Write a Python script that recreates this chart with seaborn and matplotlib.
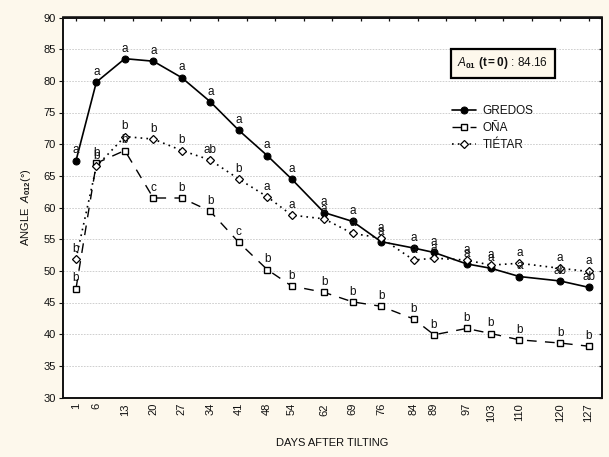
import matplotlib
matplotlib.use("Agg")
import matplotlib.pyplot as plt
import seaborn as sns
import pandas as pd
import numpy as np

days = [1, 6, 13, 20, 27, 34, 41, 48, 54, 62, 69, 76, 84, 89, 97, 103, 110, 120, 127]
gredos = [67.4, 79.8, 83.5, 83.1, 80.5, 76.7, 72.2, 68.2, 64.5, 59.2, 57.8, 54.6, 53.6, 52.9, 51.1, 50.4, 49.1, 48.4, 47.4]
ona = [47.2, 67.0, 69.0, 61.5, 61.5, 59.4, 54.5, 50.2, 47.6, 46.6, 45.1, 44.4, 42.4, 39.9, 40.9, 40.1, 39.1, 38.6, 38.1]
tietar = [51.9, 66.5, 71.2, 70.8, 69.0, 67.5, 64.5, 61.7, 58.8, 58.2, 55.9, 55.2, 51.7, 52.0, 51.7, 50.9, 51.2, 50.4, 49.9]
gredos_letters = ["a"] * 17 + ["ab", "ab"]
ona_letters = ["b", "b", "b", "c", "b", "b", "c", "b", "b", "b", "b", "b", "b", "b", "b", "b", "b", "b", "b"]
tietar_letters = ["b", "b", "b", "b", "b", "ab", "b", "a", "a", "a", "a", "a", "a", "a", "a", "a", "a", "a", "a"]
series_names = ["GREDOS", "OÑA", "TIÉTAR"]
y_ticks = list(range(30, 91, 5))
top_ticks = list(range(1, 128, 7))

sns.set_theme(style="white")
plt.rcParams["font.family"] = ["Liberation Sans", "DejaVu Sans"]
plt.rcParams["mathtext.fontset"] = "custom"
plt.rcParams["mathtext.rm"] = "Liberation Sans"
plt.rcParams["mathtext.it"] = "Liberation Sans:italic"
plt.rcParams["mathtext.bf"] = "Liberation Sans:bold"

bg = "#FDF8EC"
fig = plt.figure(figsize=(6.09, 4.57), dpi=100, facecolor=bg)
ax = fig.add_axes([63 / 609, 1 - 397.5 / 457, 539 / 609, 380 / 457])
ax.set_facecolor("white")

df = pd.DataFrame({"day": days, "GREDOS": gredos, "OÑA": ona, "TIÉTAR": tietar})

sns.lineplot(data=df, x="day", y="GREDOS", ax=ax, color="black", lw=1.2,
             marker="o", markersize=5, markerfacecolor="black", markeredgecolor="black",
             label="GREDOS", zorder=3)
sns.lineplot(data=df, x="day", y="OÑA", ax=ax, color="black", lw=1.0,
             linestyle=(0, (7, 6)), marker="s", markersize=4, markerfacecolor="white",
             markeredgecolor="black", markeredgewidth=1.0, label="OÑA", zorder=3)
sns.lineplot(data=df, x="day", y="TIÉTAR", ax=ax, color="black", lw=1.2,
             linestyle=(0, (1, 2.5)), marker="D", markersize=4, markerfacecolor="white",
             markeredgecolor="black", markeredgewidth=0.9, label="TIÉTAR", zorder=3)

for vals, letters in ((gredos, gredos_letters), (ona, ona_letters), (tietar, tietar_letters)):
    for d, v, t in zip(days, vals, letters):
        ax.annotate(t, (d, v), xytext=(0, 3), textcoords="offset points",
                    ha="center", va="bottom", fontsize=8.5, color="#111111", zorder=4)

ax.set_xlim(-2.2, 130.3)
ax.set_ylim(30, 90)
ax.set_yticks(y_ticks)
ax.set_xticks(days)
ax.set_xticklabels([str(d) for d in days], rotation=90)
ax.tick_params(axis="x", length=0, pad=4, labelsize=8, colors="#111111")
ax.tick_params(axis="y", left=True, length=3, width=0.8, direction="out", pad=2,
               labelsize=8, colors="#111111")
for lab in ax.get_xticklabels() + ax.get_yticklabels():
    lab.set_color("#111111")

for yv in y_ticks[1:-1]:
    ax.axhline(yv, color="#C8C8C8", lw=0.6, ls=(0, (2, 1.5)), zorder=0)

for s in ax.spines.values():
    s.set_color("#111111")
    s.set_linewidth(1.4)

sec_top = ax.secondary_xaxis("top")
sec_top.set_xticks(top_ticks)
sec_top.tick_params(direction="in", length=3, width=0.9, labeltop=False, color="#111111")
sec_right = ax.secondary_yaxis("right")
sec_right.set_yticks(y_ticks)
sec_right.tick_params(direction="in", length=2.5, width=0.9, labelright=False, color="#111111")

ax.set_xlabel("DAYS AFTER TILTING", fontsize=8, labelpad=12, color="#111111")
ax.set_ylabel(r"ANGLE  $\mathit{A}_{\mathbf{012}}$(°)", fontsize=8, labelpad=8, color="#111111")

ax.text(0.816, 0.880, r"$\mathit{A}_{\mathbf{01}}$ $\mathbf{(t=0)}$ : 84.16", transform=ax.transAxes,
        ha="center", va="center", fontsize=8.5, color="#111111",
        bbox=dict(boxstyle="square,pad=0.55", facecolor=bg, edgecolor="black", linewidth=1.6))

leg = ax.legend(loc="upper left", bbox_to_anchor=(0.722, 0.77), frameon=False, fontsize=8.5,
                handlelength=2.0, handletextpad=0.6, labelspacing=0.42, borderaxespad=0, borderpad=0)
for t in leg.get_texts():
    t.set_color("#111111")

fig.savefig("out.png", dpi=100, facecolor=bg)
